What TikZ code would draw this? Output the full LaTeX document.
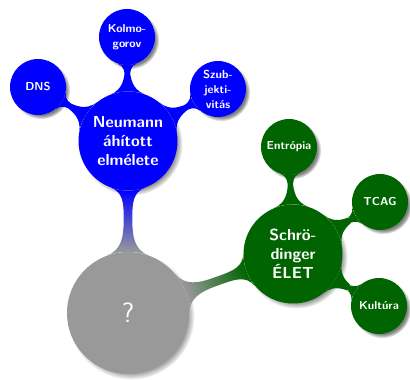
\documentclass[tikz,border=0pt]{standalone}
\usetikzlibrary{mindmap,shadows}
\definecolor{nblue}{RGB}{0,0,255}
\definecolor{sgreen}{RGB}{0,100,0}
\definecolor{rgray}{RGB}{153,153,153}
\begin{document}
\begin{tikzpicture}[x=1pt,y=1pt,
  bubble/.style={circle, inner sep=0pt, align=center, text=white,
     circular drop shadow={shadow xshift=3pt, shadow yshift=-3pt, shadow scale=1.04}},
  rootbubble/.style={bubble, fill=rgray, minimum size=122pt, font=\sffamily\fontsize{28}{32}\selectfont},
  bigbubble/.style={bubble, minimum size=99pt, font=\sffamily\bfseries\fontsize{16}{19}\selectfont},
  smallbubble/.style={bubble, minimum size=56pt, font=\sffamily\bfseries\fontsize{11.5}{15}\selectfont},
  thickbar/.style={line width=10pt},
  thinbar/.style={line width=6pt}
]
\useasboundingbox (0,0) rectangle (410,380);
% nodes
\node[rootbubble] (root) at (128,67) {?};
\node[bigbubble, fill=nblue] (neu) at (128,239) {Neumann\\áhított\\elmélete};
\node[smallbubble, fill=nblue] (kol) at (127,343) {Kolmo-\\gorov};
\node[smallbubble, fill=nblue] (dns) at (38,293) {DNS};
\node[smallbubble, fill=nblue] (szub) at (218,291) {Szub-\\jekti-\\vitás};
\node[bigbubble, fill=sgreen] (sch) at (293,126) {Schrö-\\dinger\\ÉLET};
\node[smallbubble, fill=sgreen] (ent) at (289,233) {Entrópia};
\node[smallbubble, fill=sgreen] (tcag) at (380,178) {TCAG};
\node[smallbubble, fill=sgreen] (kult) at (379,74) {Kultúra};
% connections
\path (root) to[circle connection bar switch color=from (rgray) to (nblue), thickbar] (neu);
\path (root) to[circle connection bar switch color=from (rgray) to (sgreen), thickbar] (sch);
\path (neu) to[circle connection bar switch color=from (nblue) to (nblue), thinbar] (kol);
\path (neu) to[circle connection bar switch color=from (nblue) to (nblue), thinbar] (dns);
\path (neu) to[circle connection bar switch color=from (nblue) to (nblue), thinbar] (szub);
\path (sch) to[circle connection bar switch color=from (sgreen) to (sgreen), thinbar] (ent);
\path (sch) to[circle connection bar switch color=from (sgreen) to (sgreen), thinbar] (tcag);
\path (sch) to[circle connection bar switch color=from (sgreen) to (sgreen), thinbar] (kult);
\end{tikzpicture}
\end{document}
